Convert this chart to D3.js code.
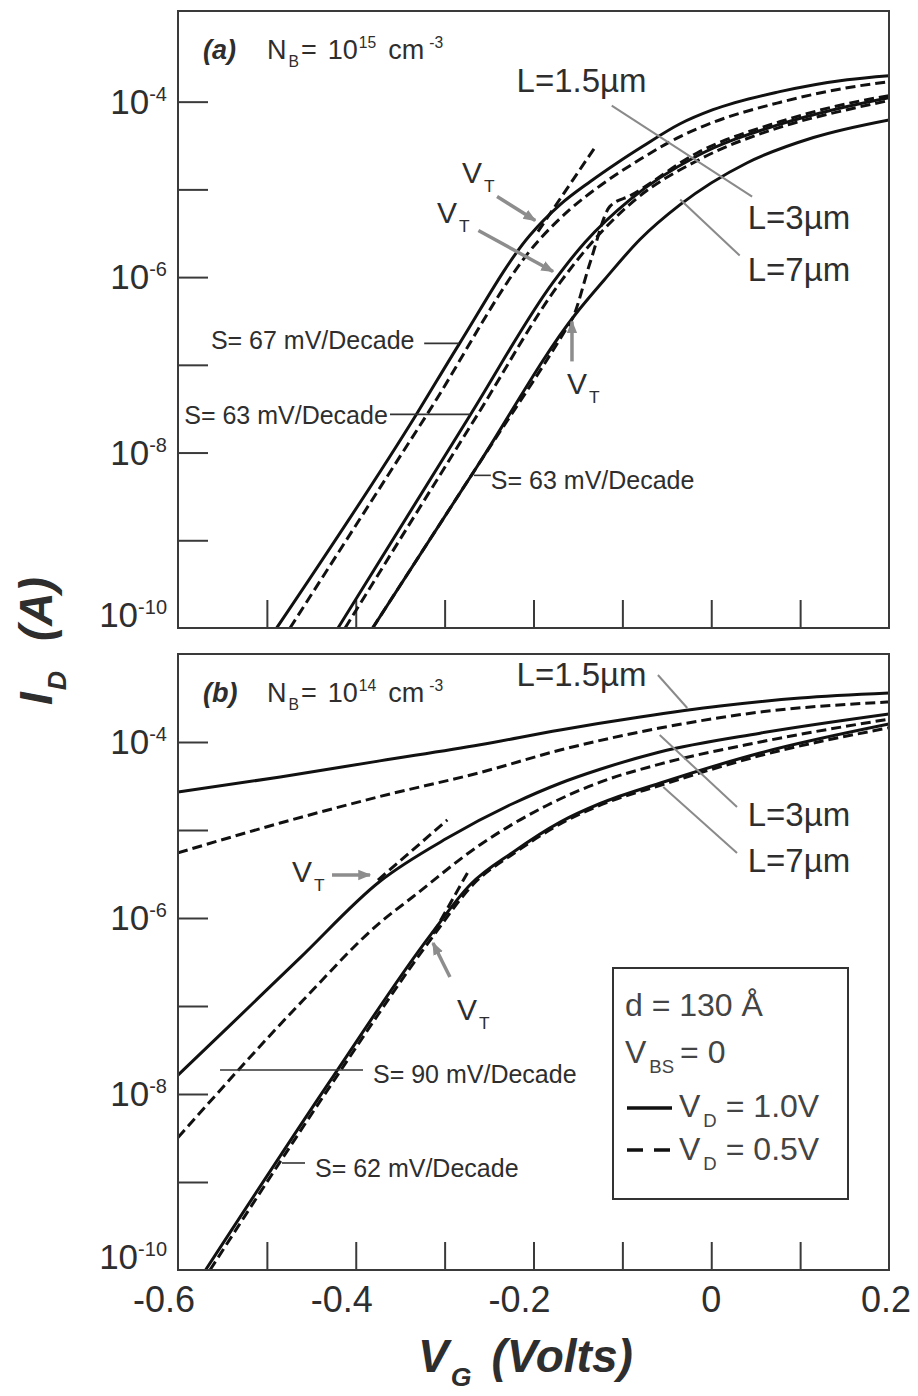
<!DOCTYPE html>
<html>
<head>
<meta charset="utf-8">
<script src="https://cdn.jsdelivr.net/npm/d3@7"></script>
<style>
  body { margin:0; background:#fff; }
  text { font-family: "Liberation Sans", Arial, Helvetica, sans-serif; fill:#2e2e2e; }
</style>
</head>
<body>
<svg id="fig" width="918" height="1396"></svg>
<script>
//* axes
var ticksVG = [-0.5,-0.4,-0.3,-0.2,-0.1,0,0.1]
var labelsVG = [-0.6,-0.4,-0.2,0,0.2]
var ticksID = [1e-4,1e-5,1e-6,1e-7,1e-8,1e-9]
var labelsID = [-4,-6,-8,-10]   //exponents of 10

//* (a) NB = 1e15 cm-3  (V in volts, I in amperes)
var a15sV = [-0.489,-0.332,-0.284,-0.204,-0.170,-0.136,-0.106,-0.077,-0.035,0.002,0.077,0.153,0.200]
var a15sI = [1.0e-10,2.7e-8,1.7e-7,3.0e-6,6.7e-6,1.23e-5,2.0e-5,3.1e-5,5.6e-5,8.1e-5,1.30e-4,1.78e-4,1.98e-4]
var a15dV = [-0.474,-0.320,-0.193,-0.159,-0.125,-0.080,-0.035,0.002,0.077,0.153,0.200]
var a15dI = [1.0e-10,2.7e-8,2.7e-6,5.9e-6,1.10e-5,2.2e-5,4.0e-5,5.8e-5,9.8e-5,1.44e-4,1.69e-4]
var a15tV = [-0.195,-0.131]
var a15tI = [3.3e-6,3.0e-5]
var a3sV = [-0.420,-0.271,-0.178,-0.142,-0.091,-0.016,0.077,0.153,0.200]
var a3sI = [1.0e-10,2.7e-8,8.7e-7,2.5e-6,7.7e-6,2.4e-5,5.5e-5,8.8e-5,1.11e-4]
var a3dV = [-0.412,-0.263,-0.170,-0.134,-0.085,-0.013,0.077,0.153,0.200]
var a3dI = [1.0e-10,2.7e-8,8.7e-7,2.5e-6,7.7e-6,2.2e-5,5.1e-5,8.1e-5,1.03e-4]
var a7sV = [-0.381,-0.264,-0.153,-0.120,-0.080,-0.035,0.040,0.115,0.200]
var a7sI = [1.0e-10,6.8e-9,3.75e-7,9.4e-7,2.7e-6,6.7e-6,2.0e-5,3.9e-5,6.2e-5]
var a7dV = [-0.381,-0.264,-0.165,-0.156,-0.136,-0.114,-0.091,-0.016,0.077,0.153,0.200]
var a7dI = [1.0e-10,6.8e-9,2.4e-7,3.4e-7,1.5e-6,6.4e-6,8.5e-6,2.6e-5,5.9e-5,9.5e-5,1.17e-4]

//* (b) NB = 1e14 cm-3
var b15sV = [-0.600,-0.485,-0.373,-0.260,-0.170,-0.080,0.010,0.100,0.200]
var b15sI = [2.7e-5,4.0e-5,6.1e-5,9.3e-5,1.37e-4,1.92e-4,2.56e-4,3.16e-4,3.6e-4]
var b15dV = [-0.600,-0.485,-0.373,-0.260,-0.170,-0.058,0.055,0.200]
var b15dI = [5.5e-6,1.2e-5,2.4e-5,4.5e-5,8.1e-5,1.44e-4,2.19e-4,2.85e-4]
var b15tV = [-0.375,-0.297]
var b15tI = [2.7e-6,1.3e-5]
var b3sV = [-0.600,-0.541,-0.463,-0.373,-0.297,-0.223,-0.170,-0.125,-0.058,0.055,0.200]
var b3sI = [1.64e-8,6.1e-8,3.5e-7,2.6e-6,8.1e-6,2.0e-5,3.4e-5,4.9e-5,7.7e-5,1.26e-4,2.08e-4]
var b3dV = [-0.600,-0.459,-0.373,-0.336,-0.260,-0.185,-0.125,-0.058,0.055,0.200]
var b3dI = [3.2e-9,1.17e-7,8.8e-7,1.73e-6,6.8e-6,1.9e-5,3.5e-5,5.6e-5,1.0e-4,1.82e-4]
var b7sV = [-0.569,-0.429,-0.316,-0.271,-0.223,-0.170,-0.125,-0.058,0.055,0.200]
var b7sI = [1.0e-10,1.4e-8,6.4e-7,2.4e-6,5.6e-6,1.23e-5,2.0e-5,3.4e-5,7.5e-5,1.6e-4]
var b7dV = [-0.564,-0.425,-0.312,-0.268,-0.220,-0.168,-0.123,-0.058,0.055,0.200]
var b7dI = [1.0e-10,1.4e-8,6.4e-7,2.4e-6,5.6e-6,1.2e-5,1.95e-5,3.2e-5,7.0e-5,1.45e-4]
var b7tV = [-0.313,-0.274]
var b7tI = [6.6e-7,3.3e-6]

//* annotations, in data units: [V, log10(I)]
var vtA = [[-0.2805,-4.923,-0.241,-5.082,-0.198,-5.355],[-0.3086,-5.378,-0.262,-5.469,-0.178,-5.936],[-0.1623,-7.337,-0.1567,-6.961,-0.1567,-6.506]]
var vtB = [[-0.4717,-5.591,-0.4267,-5.511,-0.384,-5.511],[-0.2861,-7.159,-0.294,-6.670,-0.3131,-6.284]]
var slopeA = [["S= 67 mV/Decade",-0.563,-6.825,-0.323,-0.284,-6.756],["S= 63 mV/Decade",-0.593,-7.679,-0.3615,-0.2714,-7.565],["S= 63 mV/Decade",-0.248,-8.419,-0.267,-0.248,-8.260]]
var slopeB = [["S= 90 mV/Decade",-0.3806,-7.875,-0.5527,-0.3918,-7.727],["S= 62 mV/Decade",-0.4459,-8.943,-0.483,-0.4571,-8.784]]
var lenA = [["L=1.5\u00b5m",-0.219,-3.886],["L=3\u00b5m",0.041,-5.446],["L=7\u00b5m",0.041,-6.039]]
var lenB = [["L=1.5\u00b5m",-0.219,-3.364],["L=3\u00b5m",0.041,-4.955],["L=7\u00b5m",0.041,-5.477]]
var leadA = [[-0.112,-4.046,0.046,-5.082],[-0.035,-5.116,0.032,-5.754]]
var leadB = [[-0.060,-3.239,-0.027,-3.614],[-0.058,-3.920,0.029,-4.739],[-0.054,-4.511,0.029,-5.261]]

var svg = d3.select("#fig")
svg.append("rect").attr("width",918).attr("height",1396).attr("fill","#fff")
var defs = svg.append("defs")
defs.append("marker").attr("id","head").attr("viewBox","0 0 10 10").attr("refX",9).attr("refY",5)
    .attr("markerWidth",13).attr("markerHeight",13).attr("markerUnits","userSpaceOnUse").attr("orient","auto")
    .append("path").attr("d","M0,1L10,5L0,9z").attr("fill","#8d8d8d")

var x = d3.scaleLinear().domain([-0.6,0.2]).range([178,889])

var panels = [
  {id:"a", nb:"15", top:11, bottom:628, y:d3.scaleLog().domain([1e-10,1.08e-3]).range([628,11]),
   curves:[[a15tV,a15tI,1],[a15dV,a15dI,1],[a3dV,a3dI,1],[a7dV,a7dI,1],[a15sV,a15sI,0],[a3sV,a3sI,0],[a7sV,a7sI,0]],
   vt:vtA, slope:slopeA, len:lenA, lead:leadA},
  {id:"b", nb:"14", top:654, bottom:1270, y:d3.scaleLog().domain([1e-10,1e-3]).range([1270,654]),
   curves:[[b15tV,b15tI,1],[b7tV,b7tI,1],[b15dV,b15dI,1],[b3dV,b3dI,1],[b7dV,b7dI,1],[b15sV,b15sI,0],[b3sV,b3sI,0],[b7sV,b7sI,0]],
   vt:vtB, slope:slopeB, len:lenB, lead:leadB}
]

//? text with sub / superscripts: parts = [text, kind, dx]
function rich(g, x0, y0, parts, size){
    var t = g.append("text").attr("x",x0).attr("y",y0).style("font-size",size+"px")
    var off = 0
    parts.forEach(function(p){
        var k = p[1]||"", o = k=="sub"? size*0.3 : k=="sup"? -size*0.42 : 0
        var sp = t.append("tspan").attr("dy",o-off).style("font-size",(k? size*0.58 : size)+"px").text(p[0])
        if(p[2]!=null) sp.attr("dx",p[2])
        off = o
    })
    return t
}

panels.forEach(function(p){
    var g = svg.append("g").attr("id","panel_"+p.id)
    var at = function(v,dec){ return [x(v), p.y(Math.pow(10,dec))] }

    defs.append("clipPath").attr("id","clip"+p.id).append("rect")
        .attr("x",178).attr("y",p.top).attr("width",711).attr("height",p.bottom-p.top)

    //* ticks
    var gy = g.append("g").attr("transform","translate(178,0)")
        .call(d3.axisLeft(p.y).tickValues(ticksID).tickSize(-30).tickFormat(""))
    var gx = g.append("g").attr("transform","translate(0,"+p.bottom+")")
        .call(d3.axisBottom(x).tickValues(ticksVG).tickSize(-28).tickFormat(""))
    ;[gx,gy].forEach(function(a){
        a.select(".domain").remove()
        a.selectAll("line").attr("stroke","#3a3a3a").attr("stroke-width",2)
    })

    labelsID.forEach(function(e){
        var yy = p.y(Math.pow(10,e)) + 12 - (e==-10? 13 : 0)
        var t = g.append("text").attr("x",167).attr("y",yy).attr("text-anchor","end").style("font-size","35px")
        t.append("tspan").text("10")
        t.append("tspan").attr("dy",-13).style("font-size","20px").text(String(e))
    })

    //* curves
    var cg = g.append("g").attr("clip-path","url(#clip"+p.id+")")
    var line = d3.line().x(d => x(d[0])).y(d => p.y(d[1])).curve(d3.curveMonotoneX)
    p.curves.forEach(function(c){
        cg.append("path").datum(d3.zip(c[0],c[1])).attr("d",line)
            .attr("fill","none").attr("stroke","#111").attr("stroke-width",3)
            .attr("stroke-dasharray", c[2]? "10,5" : null)
    })

    g.append("rect").attr("x",178).attr("y",p.top).attr("width",711).attr("height",p.bottom-p.top)
        .attr("fill","none").attr("stroke","#3a3a3a").attr("stroke-width",2)

    //* panel title
    g.append("text").attr("x",203).attr("y",p.top+48).style("font-size","27px")
        .style("font-weight","bold").style("font-style","italic").text("("+p.id+")")
    rich(g, 267, p.top+48, [["N"],["B","sub",2],["=","",2],["10","",11],[p.nb,"sup",1],["cm","",12],["-3","sup",5]], 27)

    //* leaders and labels
    p.lead.forEach(function(l){
        var a = at(l[0],l[1]), b = at(l[2],l[3])
        g.append("line").attr("x1",a[0]).attr("y1",a[1]).attr("x2",b[0]).attr("y2",b[1])
            .attr("stroke","#8a8a8a").attr("stroke-width",2)
    })
    p.len.forEach(function(l){
        var a = at(l[1],l[2])
        g.append("text").attr("x",a[0]).attr("y",a[1]).style("font-size","33px").text(l[0])
    })
    p.slope.forEach(function(s){
        var a = at(s[1],s[2]), b = at(s[3],s[5]), c = at(s[4],s[5])
        g.append("line").attr("x1",b[0]).attr("y1",b[1]).attr("x2",c[0]).attr("y2",c[1])
            .attr("stroke","#333").attr("stroke-width",1.6)
        g.append("text").attr("x",a[0]).attr("y",a[1]).style("font-size","25px").text(s[0])
    })
    p.vt.forEach(function(v){
        var a = at(v[0],v[1]), b = at(v[2],v[3]), c = at(v[4],v[5])
        rich(g, a[0], a[1], [["V"],["T","sub",2]], 30)
        g.append("line").attr("x1",b[0]).attr("y1",b[1]).attr("x2",c[0]).attr("y2",c[1])
            .attr("stroke","#8d8d8d").attr("stroke-width",3.5).attr("marker-end","url(#head)")
    })
})

//* x labels (bottom panel only)
labelsVG.forEach(function(v){
    svg.append("text").attr("x",x(v) - (v<0? 14 : v>0? 3 : 0)).attr("y",1312)
        .attr("text-anchor","middle").style("font-size","36px").text(v==0? "0" : String(v))
})

//* legend
var lg = svg.append("g").attr("transform","translate(613,968)")
lg.append("rect").attr("width",235).attr("height",231).attr("fill","#fff").attr("stroke","#333").attr("stroke-width",2)
rich(lg, 12, 48, [["d = 130 \u00c5"]], 32).style("fill","#444")
rich(lg, 12, 95, [["V"],["BS","sub",3],["= 0","",6]], 32).style("fill","#444")
lg.append("line").attr("x1",14).attr("x2",59).attr("y1",140).attr("y2",140).attr("stroke","#111").attr("stroke-width",3.5)
lg.append("line").attr("x1",14).attr("x2",59).attr("y1",182).attr("y2",182).attr("stroke","#111").attr("stroke-width",3.5).attr("stroke-dasharray","16,11")
rich(lg, 66, 149, [["V"],["D","sub",3],["= 1.0V","",9]], 32).style("fill","#444")
rich(lg, 66, 192, [["V"],["D","sub",3],["= 0.5V","",9]], 32).style("fill","#444")

//* axis titles
var xt = rich(svg, 418, 1372, [["V"],["G","sub",2],["(Volts)","",20]], 46)
xt.style("font-weight","bold").style("font-style","italic")
var yt = rich(svg.append("g").attr("transform","translate(52,705) rotate(-90)"), 0, 0, [["I"],["D","sub",2],["(A)","",30]], 46)
yt.style("font-weight","bold").style("font-style","italic")
</script>
</body>
</html>
